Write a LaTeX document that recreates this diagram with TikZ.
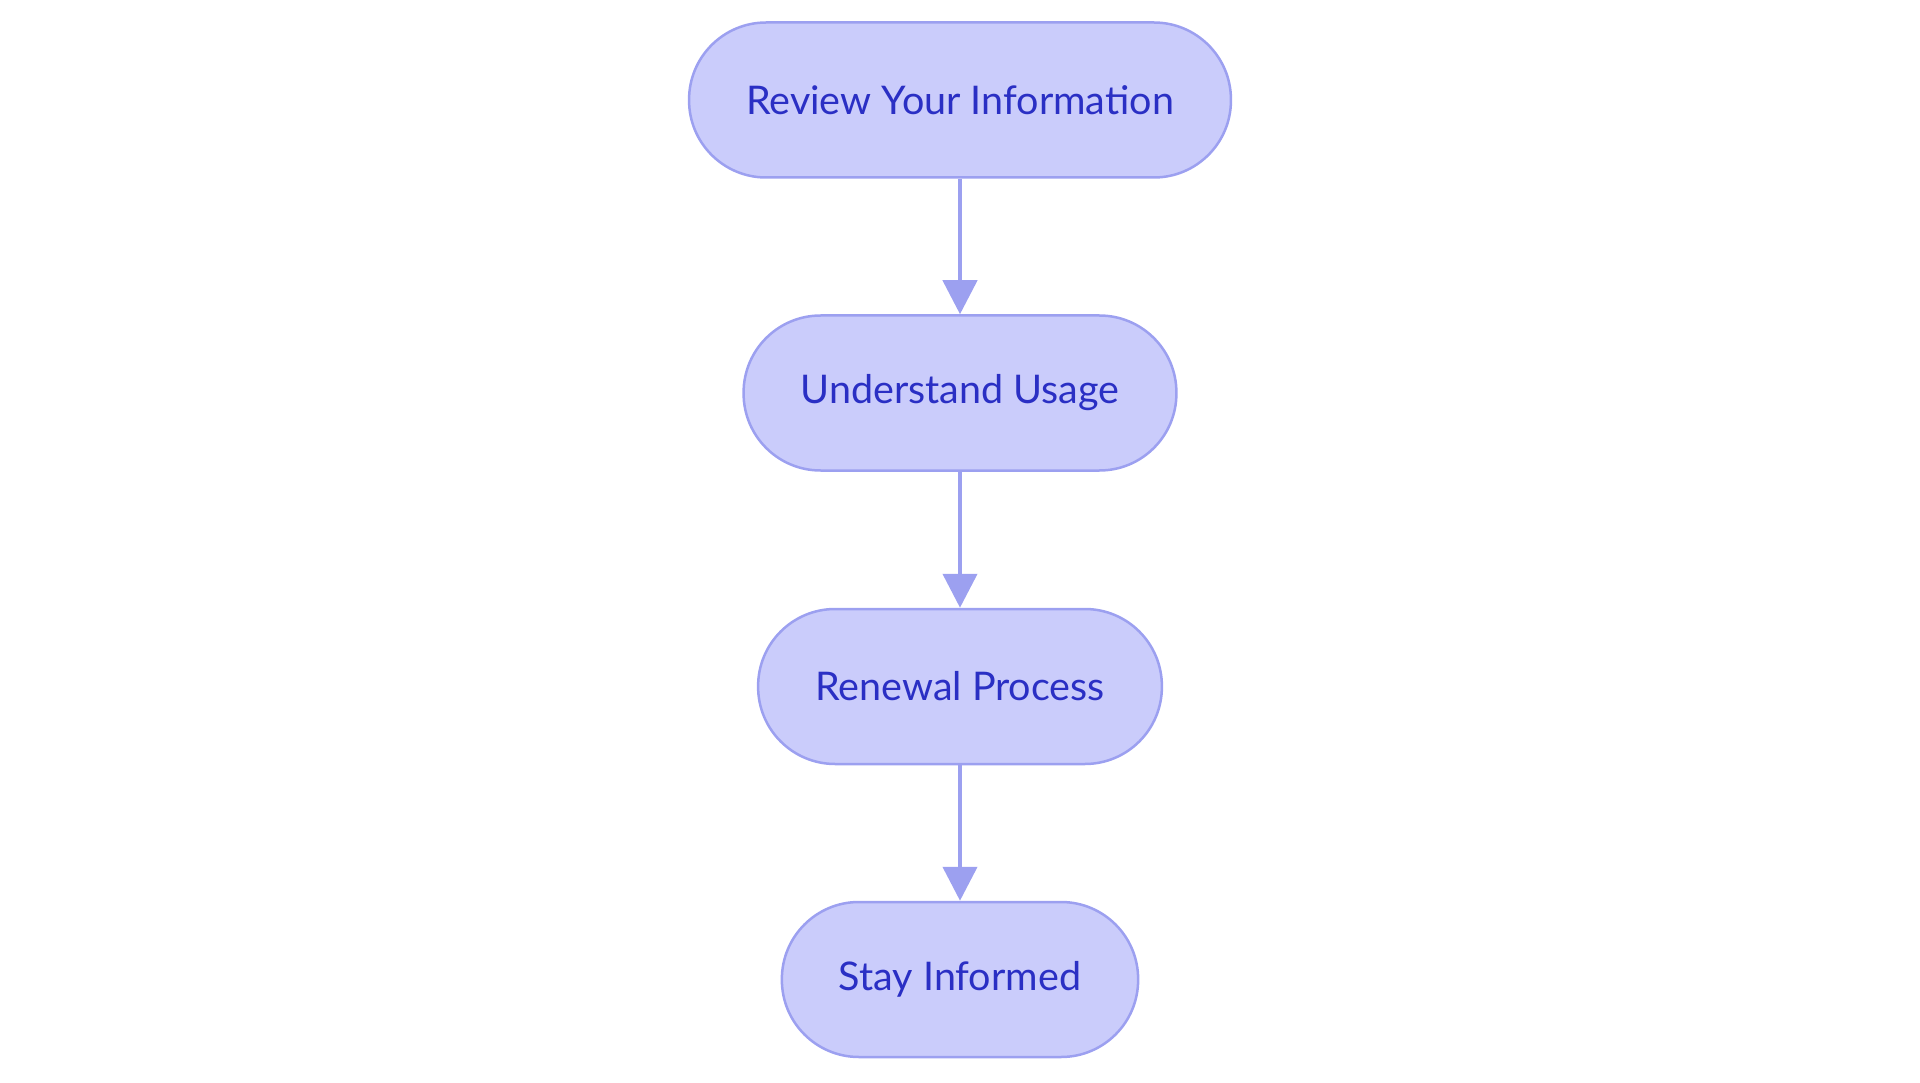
\documentclass[tikz,border=0pt]{standalone}
\usepackage{fontspec}
\setmainfont{Lato}
\usepackage{tikz}
\usetikzlibrary{arrows.meta}

\definecolor{boxfill}{HTML}{CACCFB}
\definecolor{boxline}{HTML}{9CA0F0}
\definecolor{boxtext}{HTML}{2A2FC4}

\begin{document}
\begin{tikzpicture}
[x=1pt,y=1pt,
mybox/.style={rectangle,rounded corners=77pt,minimum height=155pt,inner xsep=57pt,align=center,fill=boxfill,draw=boxline,line width=2.5pt,text=boxtext,font=\fontsize{39.5}{46}\selectfont},
myarrow/.style={-{Triangle[length=34pt,width=34pt]},draw=boxline,line width=4.5pt},
]
\useasboundingbox (0,0) rectangle (1920,-1083);

\node [mybox] (A) at (960,-100){Review Your Information};
\node [mybox] (B) at (960,-393){Understand Usage};
\node [mybox] (C) at (960,-686.5){Renewal Process};
\node [mybox] (D) at (960,-979.5){Stay Informed};
\draw[myarrow] (A) -- (B);
\draw[myarrow] (B) -- (C);
\draw[myarrow] (C) -- (D);
\end{tikzpicture}
\end{document}
